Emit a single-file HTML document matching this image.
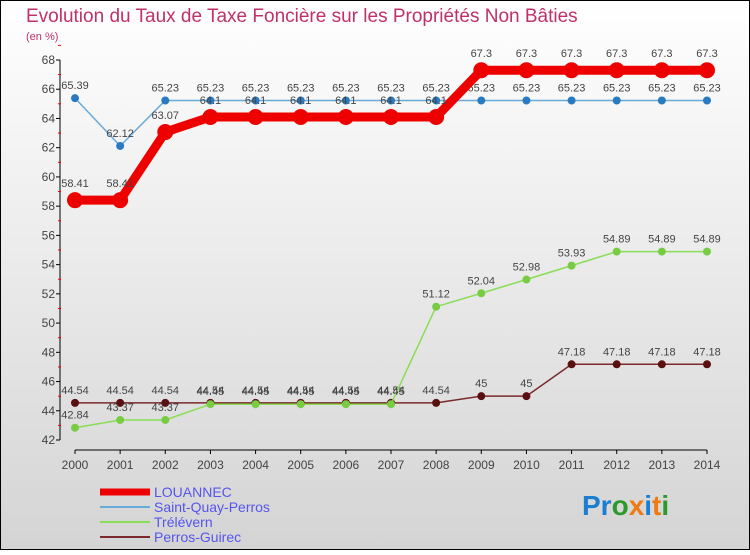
<!DOCTYPE html>
<html><head><meta charset="utf-8"><style>
body{margin:0;width:750px;height:550px;overflow:hidden;font-family:"Liberation Sans",sans-serif}
svg text{font-family:"Liberation Sans",sans-serif}
</style></head><body>
<svg id="chart" width="750" height="550" xmlns="http://www.w3.org/2000/svg">
<defs><linearGradient id="bg" x1="0" y1="0" x2="0" y2="1"><stop offset="0" stop-color="#ffffff"/><stop offset="1" stop-color="#d4d4d4"/></linearGradient></defs>
<rect x="0.5" y="0.5" width="749" height="549" fill="url(#bg)" stroke="#000"/>
<text x="26" y="22" font-size="19" fill="#c0306a">Evolution du Taux de Taxe Foncière sur les Propriétés Non Bâties</text>
<text x="26" y="40" font-size="11" fill="#c0306a">(en %)</text>
<g id="axes"></g><g id="series"></g><g id="legend"></g>
<text x="582" y="515" font-size="28" font-weight="bold" fill="#1a7fd0">Pr<tspan fill="#2a9a2a">o</tspan><tspan fill="#f07a10">x</tspan><tspan fill="#1a7fd0">i</tspan><tspan fill="#f07a10">t</tspan><tspan fill="#2a9a2a">i</tspan></text>
</svg>
<script>
const years=[2000,2001,2002,2003,2004,2005,2006,2007,2008,2009,2010,2011,2012,2013,2014];
const louannec=[58.41,58.41,63.07,64.1,64.1,64.1,64.1,64.1,64.1,67.3,67.3,67.3,67.3,67.3,67.3];
const saintQuay=[65.39,62.12,65.23,65.23,65.23,65.23,65.23,65.23,65.23,65.23,65.23,65.23,65.23,65.23,65.23];
const trelevern=[42.84,43.37,43.37,44.45,44.45,44.45,44.45,44.45,51.12,52.04,52.98,53.93,54.89,54.89,54.89];
const perros=[44.54,44.54,44.54,44.54,44.54,44.54,44.54,44.54,44.54,45,45,47.18,47.18,47.18,47.18];
const yTicks=[42,44,46,48,50,52,54,56,58,60,62,64,66,68];
const NS="http://www.w3.org/2000/svg";
const x=i=>75+i*(632/14);
const y=v=>60+(68-v)*(380/26);
function mk(t,a,p){const e=document.createElementNS(NS,t);for(const k in a)e.setAttribute(k,a[k]);p.appendChild(e);return e;}
const ax=document.getElementById('axes');
let l=mk('line',{x1:60,y1:60,x2:60,y2:440,stroke:'#000'},ax);

l=mk('line',{x1:75,y1:450,x2:707,y2:450,stroke:'#000'},ax);

yTicks.forEach(v=>{mk('line',{x1:56,y1:y(v),x2:60,y2:y(v),stroke:'#000'},ax);
 mk('line',{x1:58,y1:y(v+1),x2:61,y2:y(v+1),stroke:'#e00'},ax);
 const t=mk('text',{x:55,y:y(v)+4,'font-size':12,fill:'#444','text-anchor':'end'},ax);t.textContent=v;
 });
years.forEach((yr,i)=>{mk('line',{x1:x(i),y1:450,x2:x(i),y2:454,stroke:'#000'},ax);
 const t=mk('text',{x:x(i),y:469,'font-size':12,fill:'#444','text-anchor':'middle'},ax);t.textContent=yr;
 });
const sg=document.getElementById('series');
const defs=[
 {n:'perros-guirec',d:perros,c:'#7a2a2a',w:1.5,r:4,mc:'#5a1010'},
 {n:'trelevern',d:trelevern,c:'#88dd55',w:1.5,r:4,mc:'#77cc44'},
 {n:'saint-quay-perros',d:saintQuay,c:'#6aaad8',w:1.5,r:4,mc:'#2a7ac0'},
 {n:'louannec',d:louannec,c:'#ee0000',w:9,r:8,mc:'#ee0000'}];
defs.forEach(s=>{const g=mk('g',{},sg);
 const p=mk('polyline',{points:s.d.map((v,i)=>x(i)+','+y(v)).join(' '),fill:'none',stroke:s.c,'stroke-width':s.w},g);
 
 s.d.forEach((v,i)=>{const c=mk('circle',{cx:x(i),cy:y(v),r:s.r,fill:s.mc},g);
  
  const t=mk('text',{x:x(i),y:y(v)-(s.r+5),'font-size':11,fill:'#444','text-anchor':'middle'},g);t.textContent=v;
  });});
const lg=document.getElementById('legend');
[['LOUANNEC','#ee0000',7],['Saint-Quay-Perros','#6aaad8',2],['Trélévern','#88dd55',2],['Perros-Guirec','#7a2a2a',2]].forEach((e,i)=>{
 const yy=492+i*15;const ln=mk('line',{x1:100,y1:yy,x2:150,y2:yy,stroke:e[1],'stroke-width':e[2]},lg);
 
 const t=mk('text',{x:154,y:yy+5,'font-size':14,fill:'#5555ee'},lg);t.textContent=e[0];
 });
</script>
</body></html>
